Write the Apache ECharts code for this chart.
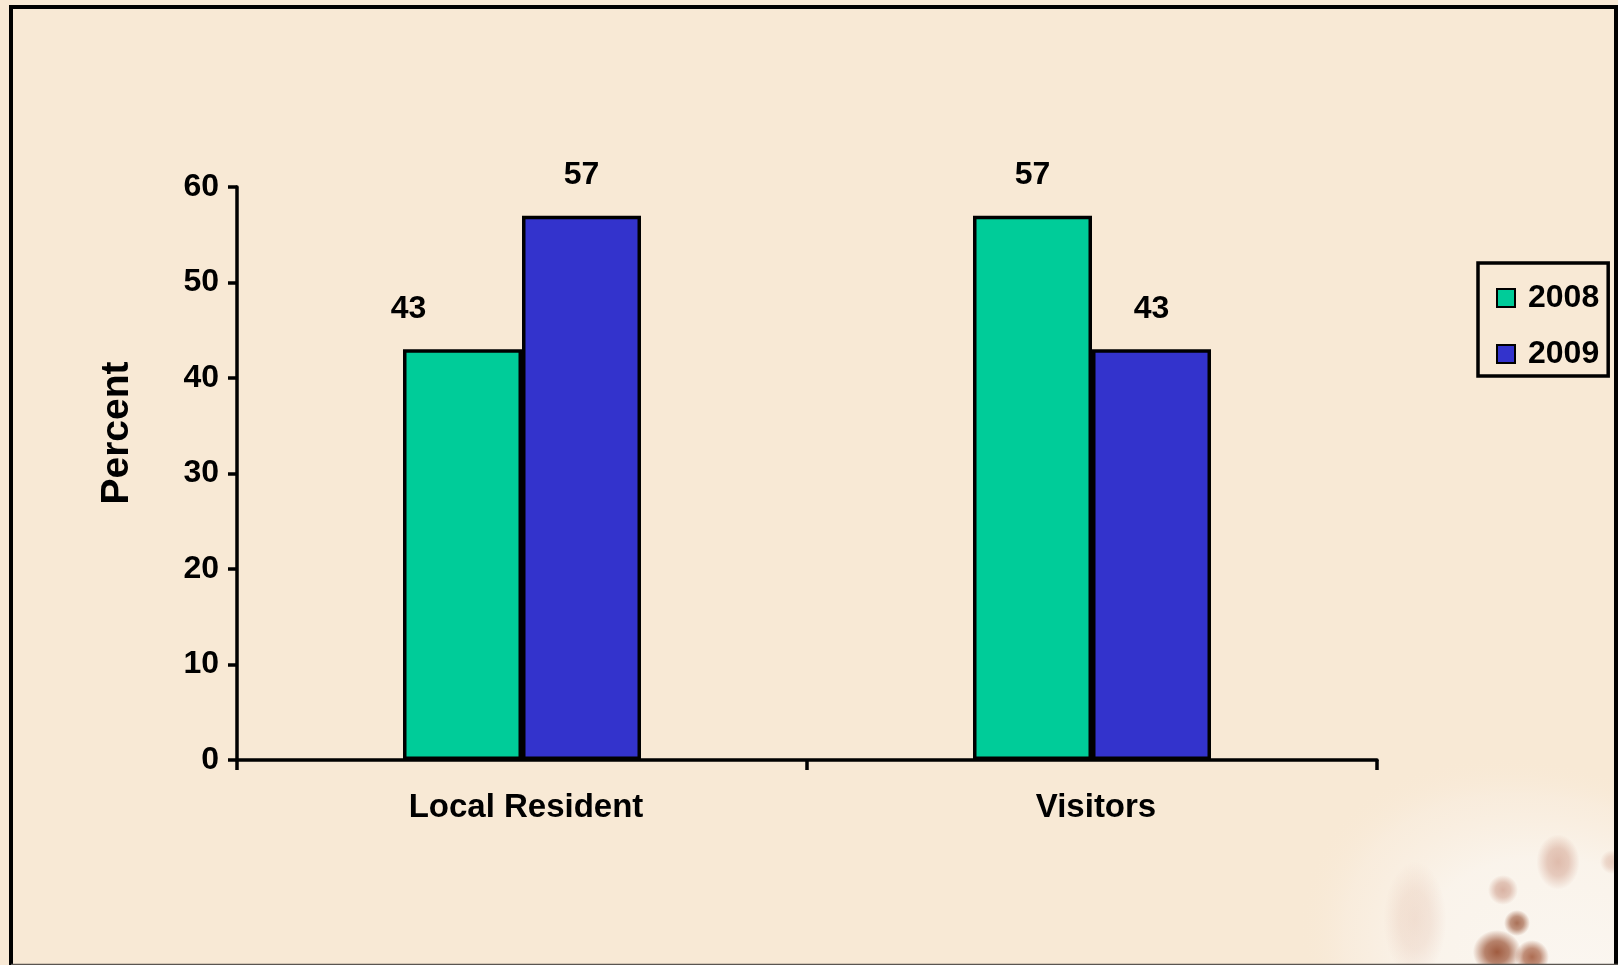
<!DOCTYPE html>
<html>
<head>
<meta charset="utf-8">
<title>Local Resident vs Visitors</title>
<script src="https://cdn.jsdelivr.net/npm/echarts@6/dist/echarts.min.js"></script>
<style>
  html, body { margin: 0; padding: 0; background: #F8E9D5; }
  #chart { width: 1618px; height: 965px; }
</style>
</head>
<body>
<div id="chart"></div>
<script>
// Share of respondents (percent) by group and year
const categories = ['Local Resident', 'Visitors'];
const years = ['2008', '2009'];
const values2008 = [43, 57];
const values2009 = [57, 43];
const yTicks = { min: 0, max: 60, interval: 10 };
const yTitle = 'Percent';

const FONT = '"Liberation Sans", Arial, sans-serif';
const GREEN = '#00CC99';
const BLUE = '#3333CC';

const chart = echarts.init(document.getElementById('chart'), null, { renderer: 'canvas' });

// Soft blot with a radial fade, optionally stretched
function blot(cx, cy, r, rgb, alpha, sx, sy) {
  return {
    type: 'circle',
    silent: true,
    z: -10,
    x: cx, y: cy,
    scaleX: sx || 1, scaleY: sy || 1,
    shape: { cx: 0, cy: 0, r: r },
    style: {
      fill: {
        type: 'radial', x: 0.5, y: 0.5, r: 0.5,
        colorStops: [
          { offset: 0, color: 'rgba(' + rgb + ',' + alpha + ')' },
          { offset: 0.5, color: 'rgba(' + rgb + ',' + (alpha * 0.75) + ')' },
          { offset: 1, color: 'rgba(' + rgb + ',0)' }
        ]
      }
    }
  };
}

const labelStyle = {
  show: true,
  position: 'top',
  distance: 24,
  color: '#000',
  fontFamily: FONT,
  fontWeight: 'bold',
  fontSize: 32,
  lineHeight: 32
};

chart.setOption({
  backgroundColor: '#F8E9D5',
  animation: false,
  grid: { left: 237, right: 241, top: 187, bottom: 205, containLabel: false },
  legend: {
    data: years,
    orient: 'vertical',
    left: 1478,
    top: 263,
    padding: [19, 9, 6, 18],
    itemGap: 24,
    itemWidth: 18,
    itemHeight: 18,
    borderColor: '#000',
    borderWidth: 3.5,
    icon: 'rect',
    textStyle: {
      color: '#000', fontFamily: FONT, fontWeight: 'bold', fontSize: 32, lineHeight: 32,
      padding: [0, 0, 0, 8]
    }
  },
  xAxis: {
    type: 'category',
    data: categories,
    axisLine: { lineStyle: { color: '#000', width: 3.5 } },
    axisTick: { show: true, length: 10, lineStyle: { color: '#000', width: 3.5 } },
    axisLabel: {
      margin: 31, color: '#000', fontFamily: FONT, fontWeight: 'bold', fontSize: 33,
      padding: [0, 0, 0, 8]
    },
    splitLine: { show: false }
  },
  yAxis: {
    type: 'value',
    min: yTicks.min,
    max: yTicks.max,
    interval: yTicks.interval,
    axisLine: { show: true, lineStyle: { color: '#000', width: 3.5 } },
    axisTick: { show: true, length: 9, lineStyle: { color: '#000', width: 3.5 } },
    axisLabel: { margin: 18, color: '#000', fontFamily: FONT, fontWeight: 'bold', fontSize: 32 },
    splitLine: { show: false }
  },
  series: [
    {
      name: years[0],
      type: 'bar',
      data: values2008.map(function (v, i) {
        return i === 0 ? { value: v, label: { offset: [-54, 0] } } : v;
      }),
      barWidth: 119,
      barGap: '0%',
      itemStyle: { color: GREEN, borderColor: '#000', borderWidth: 3.5 },
      label: labelStyle
    },
    {
      name: years[1],
      type: 'bar',
      data: values2009,
      barWidth: 119,
      barGap: '0%',
      itemStyle: { color: BLUE, borderColor: '#000', borderWidth: 3.5 },
      label: labelStyle
    }
  ],
  graphic: [
    // vertical axis title
    {
      type: 'text', silent: true,
      x: 117, y: 433, rotation: Math.PI / 2,
      style: {
        text: yTitle, fill: '#000', font: 'bold 39px ' + FONT,
        align: 'center', verticalAlign: 'middle'
      }
    },
    // pale wash in the lower-right corner
    {
      type: 'circle', silent: true, z: -11,
      x: 1600, y: 1010, rotation: -0.55, scaleX: 1.25, scaleY: 0.85,
      shape: { cx: 0, cy: 0, r: 260 },
      style: {
        fill: {
          type: 'radial', x: 0.5, y: 0.5, r: 0.5,
          colorStops: [
            { offset: 0, color: 'rgba(251,247,242,1)' },
            { offset: 0.6, color: 'rgba(250,244,236,0.95)' },
            { offset: 0.85, color: 'rgba(249,238,225,0.6)' },
            { offset: 1, color: 'rgba(248,233,213,0)' }
          ]
        }
      }
    },
    blot(1415, 920, 45, '225,185,165', 0.35, 0.7, 1.3),
    blot(1558, 862, 24, '205,150,130', 0.6, 0.9, 1.15),
    blot(1612, 862, 12, '210,160,140', 0.45),
    blot(1503, 890, 15, '195,135,115', 0.6),
    blot(1517, 923, 13, '150,80,50', 0.8),
    blot(1497, 952, 22, '150,75,45', 0.9, 1.1, 1),
    blot(1532, 957, 17, '160,85,55', 0.85),
    // outer frame
    {
      type: 'rect', silent: true, z: 100,
      shape: { x: 11, y: 7, width: 1605, height: 970 },
      style: { fill: 'none', stroke: '#000', lineWidth: 4 }
    },
    {
      type: 'line', silent: true, z: 100,
      shape: { x1: 11, y1: 964.5, x2: 1618, y2: 964.5 },
      style: { stroke: '#5a5550', lineWidth: 1.5 }
    }
  ]
});
</script>
</body>
</html>
